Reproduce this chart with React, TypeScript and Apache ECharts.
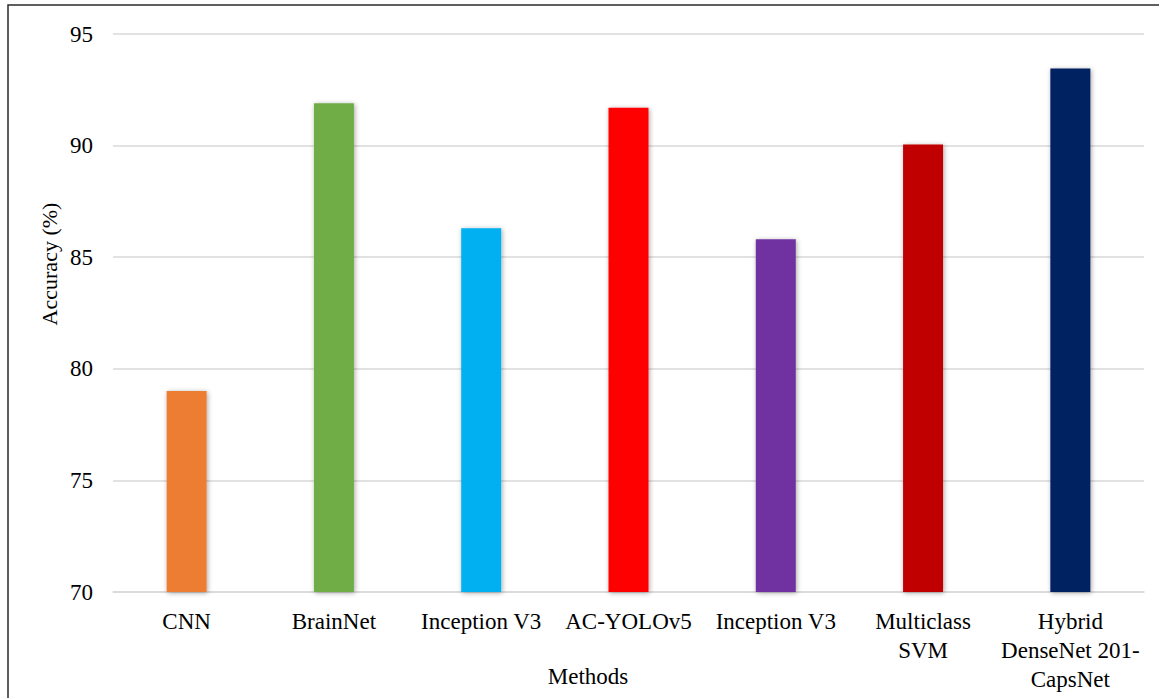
import React, { useEffect, useRef } from "react";
import * as echarts from "echarts";

// Accuracy of each method (%), in display order
const methods = [
  "CNN",
  "BrainNet",
  "Inception V3",
  "AC-YOLOv5",
  "Inception V3",
  "Multiclass\nSVM",
  "Hybrid\nDenseNet 201-\nCapsNet",
];
const accuracy = [79.0, 91.9, 86.3, 91.7, 85.8, 90.05, 93.45];
const barColors = ["#ED7D31", "#70AD47", "#00B0F0", "#FF0000", "#7030A0", "#C00000", "#002060"];
const yTicks = { min: 70, max: 95, step: 5 };
const xTitle = "Methods";
const yTitle = "Accuracy (%)";

const FONT = "'Liberation Serif', 'Times New Roman', serif";

export default function App() {
  const ref = useRef<HTMLDivElement>(null);

  useEffect(() => {
    if (!ref.current) return;
    const chart = echarts.init(ref.current, null, { renderer: "svg" });
    chart.setOption({
      animation: false,
      backgroundColor: "#ffffff",
      textStyle: { fontFamily: FONT },
      graphic: [
        {
          type: "rect",
          shape: { x: 8, y: 5, width: 1180, height: 720 },
          style: { fill: "none", stroke: "#2b2b2b", lineWidth: 1.5 },
          silent: true,
        },
        {
          type: "text",
          x: 588,
          y: 676,
          style: {
            text: xTitle,
            fontFamily: FONT,
            fontSize: 23,
            fill: "#000",
            align: "center",
            verticalAlign: "middle",
          },
        },
        {
          type: "text",
          x: 49,
          y: 264,
          rotation: Math.PI / 2,
          style: {
            text: yTitle,
            fontFamily: FONT,
            fontSize: 22,
            fill: "#000",
            align: "center",
            verticalAlign: "middle",
          },
        },
      ],
      grid: {
        left: 113,
        right: 15,
        top: 34,
        bottom: 106,
        containLabel: false,
        outerBoundsMode: "none",
      },
      xAxis: {
        type: "category",
        data: methods,
        axisLine: { show: true, lineStyle: { color: "#d9d9d9", width: 1.5 } },
        axisTick: { show: false },
        axisLabel: {
          interval: 0,
          margin: 15,
          fontFamily: FONT,
          fontSize: 23,
          lineHeight: 29,
          color: "#000",
        },
      },
      yAxis: {
        type: "value",
        min: yTicks.min,
        max: yTicks.max,
        interval: yTicks.step,
        axisLine: { show: false },
        axisTick: { show: false },
        axisLabel: { margin: 20, fontFamily: FONT, fontSize: 23, color: "#000" },
        splitLine: { lineStyle: { color: "#d9d9d9", width: 1.5 } },
      },
      series: [
        {
          type: "bar",
          barWidth: 40,
          data: accuracy.map((v, i) => ({
            value: v,
            itemStyle: {
              color: barColors[i],
              shadowBlur: 5,
              shadowColor: "rgba(0,0,0,0.35)",
              shadowOffsetX: 1,
              shadowOffsetY: 1,
            },
          })),
        },
      ],
    });
    return () => chart.dispose();
  }, []);

  return (
    <div
      ref={ref}
      style={{ position: "fixed", left: 0, top: 0, width: 1159, height: 698 }}
    />
  );
}
